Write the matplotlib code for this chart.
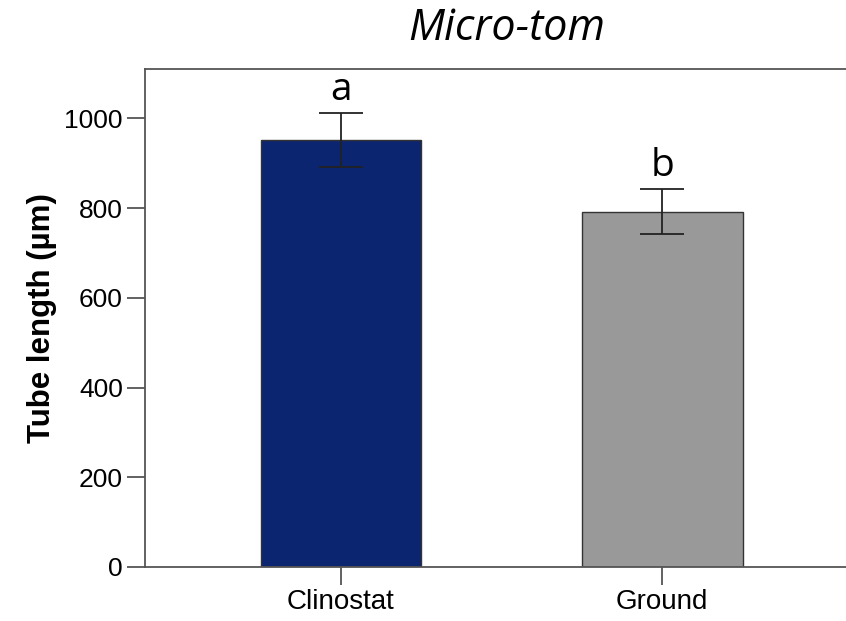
import matplotlib.pyplot as plt
from matplotlib import font_manager

# Tube length per treatment
groups = ["Clinostat", "Ground"]
means = [952, 792]
errors = [60, 50]
letters = ["a", "b"]
bar_colors = ["#0b2570", "#999999"]

# regular-width Liberation Sans Bold for the axis label, Roboto bold as fallback
label_font = font_manager.FontProperties(family="Roboto", weight="bold", size=22.5)
for f in font_manager.fontManager.ttflist:
    if f.fname.endswith("LiberationSans-Bold.ttf"):
        label_font = font_manager.FontProperties(fname=f.fname, size=22.5)
        break

fig = plt.figure(figsize=(8.46, 6.21), dpi=100)
# right edge of the frame runs past the figure edge, as in the original
ax = fig.add_axes([0.1714, 0.0870, 0.843, 0.8019])

x = range(len(groups))
ax.bar(x, means, width=0.5, color=bar_colors, edgecolor="#333333", linewidth=1.0, zorder=2)
ax.errorbar(x, means, yerr=errors, fmt="none", ecolor="#222222",
            elinewidth=1.3, capsize=16, capthick=1.3, zorder=3)

for xi, m, e, lab in zip(x, means, errors, letters):
    ax.annotate(lab, (xi, m + e), xytext=(0, 3), textcoords="offset points",
                ha="center", va="bottom", fontsize=28, family="Open Sans")

ax.set_xlim(-0.61, 1.61)
ax.set_ylim(0, 1110)
ax.set_xticks(list(x))
ax.set_xticklabels(groups)
ax.set_yticks([0, 200, 400, 600, 800, 1000])

for sp in ax.spines.values():
    sp.set_color("#555555")
    sp.set_linewidth(1.3)

ax.tick_params(axis="both", direction="out", length=13, width=1.3, color="#555555", pad=3)
ax.tick_params(axis="y", labelsize=19)
ax.tick_params(axis="x", labelsize=20)
for lbl in ax.get_xticklabels() + ax.get_yticklabels():
    lbl.set_family("Liberation Sans")

ax.set_ylabel("Tube length (µm)", fontproperties=label_font, labelpad=5)
fig.text(0.599, 0.953, "Micro-tom", fontsize=31, style="italic", family="Open Sans",
         ha="center", va="center")

plt.savefig("out.png", dpi=100)
